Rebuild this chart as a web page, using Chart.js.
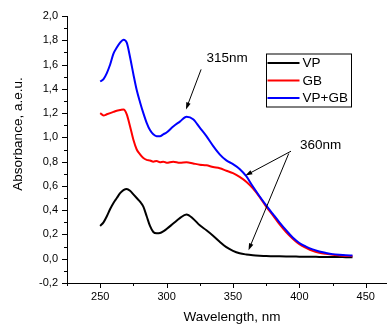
<!DOCTYPE html>
<html>
<head>
<meta charset="utf-8">
<script src="https://cdn.jsdelivr.net/npm/chart.js@4"></script>
<style>
  html, body { margin: 0; padding: 0; background: #fff; }
  #wrap { width: 387px; height: 326px; position: relative; }
</style>
</head>
<body>
<div id="wrap"><canvas id="absChart"></canvas></div>
<script>
const wavelengths = [250, 252.5, 255, 257.5, 260, 262.5, 265, 267.5, 270, 272.5, 275, 277.5, 280, 282.5, 285, 287.5, 290, 292.5, 295, 297.5,
  300, 305, 310, 315, 320, 325, 330, 335, 340, 345, 350, 355, 360, 365, 370, 375, 380, 385, 390, 395, 400, 405, 410, 415, 420, 425, 430, 435, 440];

const vp = [0.27, 0.30, 0.35, 0.41, 0.46, 0.50, 0.54, 0.565, 0.575, 0.56, 0.53, 0.50, 0.47, 0.43, 0.35, 0.27, 0.22, 0.21, 0.212, 0.225,
  0.245, 0.29, 0.335, 0.365, 0.33, 0.275, 0.235, 0.19, 0.14, 0.095, 0.065, 0.045, 0.035, 0.029, 0.025, 0.022, 0.021, 0.02, 0.019, 0.018,
  0.017, 0.016, 0.016, 0.015, 0.015, 0.014, 0.014, 0.013, 0.013];

const gb = [1.20, 1.18, 1.19, 1.20, 1.21, 1.22, 1.225, 1.23, 1.19, 1.09, 0.98, 0.90, 0.86, 0.83, 0.815, 0.81, 0.80, 0.805, 0.795, 0.80,
  0.79, 0.80, 0.79, 0.795, 0.785, 0.775, 0.77, 0.755, 0.745, 0.725, 0.705, 0.675, 0.635, 0.58, 0.51, 0.43, 0.36, 0.285, 0.22, 0.165,
  0.12, 0.09, 0.065, 0.05, 0.04, 0.032, 0.027, 0.023, 0.021];

const vpGb = [1.46, 1.48, 1.53, 1.60, 1.69, 1.74, 1.78, 1.805, 1.78, 1.66, 1.52, 1.39, 1.29, 1.20, 1.12, 1.06, 1.025, 1.01, 1.01, 1.025,
  1.04, 1.09, 1.13, 1.17, 1.15, 1.08, 1.01, 0.93, 0.86, 0.81, 0.78, 0.74, 0.68, 0.595, 0.515, 0.44, 0.37, 0.30, 0.235, 0.175,
  0.13, 0.10, 0.077, 0.06, 0.048, 0.038, 0.032, 0.028, 0.027];

const seriesNames = ['VP', 'GB', 'VP+GB'];
const seriesColors = ['#000000', '#ff0000', '#0000ff'];
const xRange = [225, 466];
const yRange = [-0.2, 2.0];

// peak labels with arrows, in data units: [fromX, fromY, toX, toY]
const notes = [
  { text: '315nm', x: 330, y: 1.655, arrows: [[326, 1.56, 314.6, 1.23]] },
  { text: '360nm', x: 400.5, y: 0.937, arrows: [[393.7, 0.886, 359.3, 0.685], [392, 0.867, 361.7, 0.07]] }
];

const FONT = 'Arial, "Liberation Sans", sans-serif';

function drawArrow(ctx, x1, y1, x2, y2) {
  const a = Math.atan2(y2 - y1, x2 - x1);
  const len = 7, half = 2.3;
  ctx.beginPath();
  ctx.moveTo(x1, y1);
  ctx.lineTo(x2 - Math.cos(a) * len * 0.8, y2 - Math.sin(a) * len * 0.8);
  ctx.stroke();
  ctx.beginPath();
  ctx.moveTo(x2, y2);
  ctx.lineTo(x2 - len * Math.cos(a) + half * Math.sin(a), y2 - len * Math.sin(a) - half * Math.cos(a));
  ctx.lineTo(x2 - len * Math.cos(a) - half * Math.sin(a), y2 - len * Math.sin(a) + half * Math.cos(a));
  ctx.closePath();
  ctx.fill();
}

const extras = {
  id: 'extras',
  afterDraw(chart) {
    const { ctx, chartArea, scales: { x, y } } = chart;
    ctx.save();
    ctx.strokeStyle = '#000';
    ctx.fillStyle = '#000';
    ctx.lineWidth = 1;

    // tick marks, major longer than minor
    x.ticks.forEach(t => {
      const px = Math.round(x.getPixelForValue(t.value)) + 0.5;
      const len = t.label ? 5 : 3;
      ctx.beginPath();
      ctx.moveTo(px, chartArea.bottom);
      ctx.lineTo(px, chartArea.bottom + len);
      ctx.stroke();
    });
    y.ticks.forEach(t => {
      const py = Math.round(y.getPixelForValue(t.value)) + 0.5;
      const len = t.label ? 5 : 3;
      ctx.beginPath();
      ctx.moveTo(chartArea.left, py);
      ctx.lineTo(chartArea.left - len, py);
      ctx.stroke();
    });

    // axis titles
    ctx.font = '13.5px ' + FONT;
    ctx.textAlign = 'center';
    ctx.textBaseline = 'middle';
    ctx.fillText('Wavelength, nm', 232, 317);
    ctx.save();
    ctx.translate(18.5, 134);
    ctx.rotate(-Math.PI / 2);
    ctx.fillText('Absorbance, a.e.u.', 0, 0);
    ctx.restore();

    // annotations
    ctx.textAlign = 'left';
    notes.forEach(n => {
      ctx.fillText(n.text, x.getPixelForValue(n.x), y.getPixelForValue(n.y));
      n.arrows.forEach(a => drawArrow(ctx,
        x.getPixelForValue(a[0]), y.getPixelForValue(a[1]),
        x.getPixelForValue(a[2]), y.getPixelForValue(a[3])));
    });

    // legend box
    const bx = chartArea.left + 199.5, by = chartArea.top + 38;
    ctx.strokeRect(bx, by, 85, 53);
    chart.data.datasets.forEach((ds, i) => {
      const ly = by + 9 + i * 17.5;
      ctx.strokeStyle = ds.borderColor;
      ctx.lineWidth = 2;
      ctx.beginPath();
      ctx.moveTo(bx + 1, ly);
      ctx.lineTo(bx + 33, ly);
      ctx.stroke();
      ctx.fillText(ds.label, bx + 36, ly + 0.5);
    });
    ctx.restore();
  }
};

const series = [vp, gb, vpGb];

new Chart(document.getElementById('absChart'), {
  type: 'line',
  data: {
    datasets: series.map((vals, i) => ({
      label: seriesNames[i],
      data: wavelengths.map((w, j) => ({ x: w, y: vals[j] })),
      borderColor: seriesColors[i],
      borderWidth: 2,
      pointRadius: 0,
      cubicInterpolationMode: 'monotone',
      fill: false,
      order: 2 - i
    }))
  },
  options: {
    responsive: true,
    maintainAspectRatio: false,
    animation: false,
    layout: { padding: { left: 0, right: 0, top: 16, bottom: 0 } },
    plugins: { legend: { display: false }, tooltip: { enabled: false } },
    scales: {
      x: {
        type: 'linear',
        min: xRange[0],
        max: xRange[1],
        afterFit: s => { s.height = 43; },
        grid: { display: false, drawTicks: false },
        border: { display: true, color: '#000', width: 1 },
        ticks: {
          stepSize: 25,
          includeBounds: false,
          autoSkip: false,
          maxRotation: 0,
          padding: 7,
          color: '#000',
          font: { family: FONT, size: 11 },
          callback: v => (v % 50 === 0 ? String(v) : '')
        }
      },
      y: {
        type: 'linear',
        min: yRange[0],
        max: yRange[1],
        afterFit: s => { s.width = 67; },
        grid: { display: false, drawTicks: false },
        border: { display: true, color: '#000', width: 1 },
        ticks: {
          stepSize: 0.1,
          autoSkip: false,
          padding: 9,
          color: '#000',
          font: { family: FONT, size: 11 },
          callback: v => (Math.round(v * 10) % 2 === 0 ? (Math.round(v * 10) / 10).toFixed(1).replace('.', ',') : '')
        }
      }
    }
  },
  plugins: [extras]
});
</script>
</body>
</html>
